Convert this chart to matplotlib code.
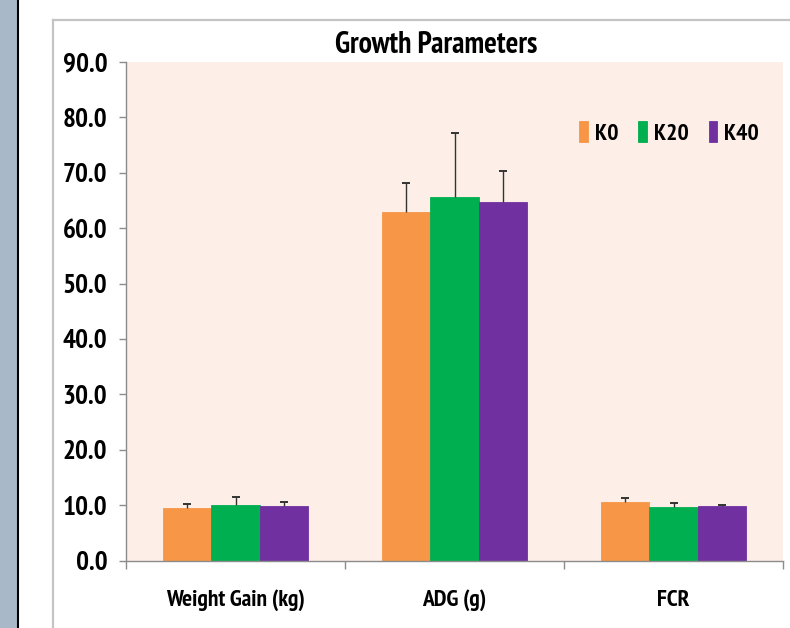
import matplotlib
matplotlib.use("Agg")
import matplotlib.pyplot as plt
import numpy as np
from matplotlib.patches import Rectangle
from matplotlib.lines import Line2D

categories = ["Weight Gain (kg)", "ADG (g)", "FCR"]
series = ["K0", "K20", "K40"]
k0 = [9.5, 62.9, 10.5]
k20 = [10.05, 65.7, 9.7]
k40 = [9.8, 64.8, 9.9]
k0_err = [0.7, 5.2, 0.8]
k20_err = [1.5, 11.4, 0.6]
k40_err = [0.8, 5.5, 0.1]
yticks = [0, 10, 20, 30, 40, 50, 60, 70, 80, 90]
colors = ["#F79646", "#00B050", "#7030A0"]

FONT = ["PT Sans Narrow", "Liberation Sans", "DejaVu Sans"]
plt.rcParams["font.family"] = FONT

W, H = 790, 628
fig = plt.figure(figsize=(W / 100, H / 100), dpi=100)
fig.patch.set_facecolor("white")

# left decorative strip and frame
fig.patches.append(Rectangle((0, 0), 17 / W, 1, transform=fig.transFigure,
                             facecolor="#A8B8C8", edgecolor="none", zorder=0))
fig.lines.append(Line2D([18 / W, 18 / W], [0, 1], transform=fig.transFigure,
                        color="black", lw=1.5, zorder=1))
fig.lines.append(Line2D([53 / W, 53 / W], [0, 1 - 20 / H], transform=fig.transFigure,
                        color="#C4C4C4", lw=1.6, zorder=1))
fig.lines.append(Line2D([53 / W, 1], [1 - 20 / H, 1 - 20 / H], transform=fig.transFigure,
                        color="#C4C4C4", lw=1.6, zorder=1))

left, right = 126 / W, 783 / W
bottom, top = 1 - 560.5 / H, 1 - 62 / H
ax = fig.add_axes([left, bottom, right - left, top - bottom])
ax.set_facecolor("#FDEEE8")

x = np.arange(len(categories))
bw = 0.222
data = [k0, k20, k40]
errs = [k0_err, k20_err, k40_err]
for i, (vals, e, c, name) in enumerate(zip(data, errs, colors, series)):
    pos = x + (i - 1) * bw
    ax.bar(pos, vals, width=bw, color=c, edgecolor=c, linewidth=0.6, label=name, zorder=2)
    eb = ax.errorbar(pos, vals, yerr=[np.zeros(len(e)), e], fmt="none", ecolor="#333333",
                     elinewidth=1.0, capsize=3, capthick=1.4, zorder=3)
    caps = eb[1]
    if len(caps) == 2:
        caps[0].set_visible(False)

ax.set_xlim(-0.5, 2.5)
ax.set_ylim(0, 90)
ax.set_yticks(yticks)
ax.set_yticklabels([f"{v:.1f}" for v in yticks])
ax.set_xticks(x)
ax.set_xticklabels(categories)
ax.set_xticks([-0.5, 0.5, 1.5, 2.5], minor=True)

for s in ["top", "right"]:
    ax.spines[s].set_visible(False)
for s in ["left", "bottom"]:
    ax.spines[s].set_color("#8C8C8C")
    ax.spines[s].set_linewidth(1.0)

ax.tick_params(axis="y", direction="out", length=5, width=1, color="#8C8C8C", pad=8.5,
               labelsize=19.5)
ax.tick_params(axis="x", which="major", length=0, pad=21, labelsize=17)
ax.tick_params(axis="x", which="minor", direction="out", length=6, width=1, color="#8C8C8C")
for lab in ax.get_yticklabels() + ax.get_xticklabels():
    lab.set_fontweight("bold")

leg = ax.legend(loc="upper right", bbox_to_anchor=(0.978, 0.9), ncol=3, frameon=False,
                prop={"size": 17, "weight": "bold"}, handlelength=0.36, handleheight=0.95,
                handletextpad=0.3, columnspacing=0.85, borderaxespad=0)

fig.text(436 / W, 1 - 45 / H, "Growth Parameters", ha="center", va="center",
         fontsize=21.5, fontweight="bold")

fig.savefig("out.png", dpi=100)
